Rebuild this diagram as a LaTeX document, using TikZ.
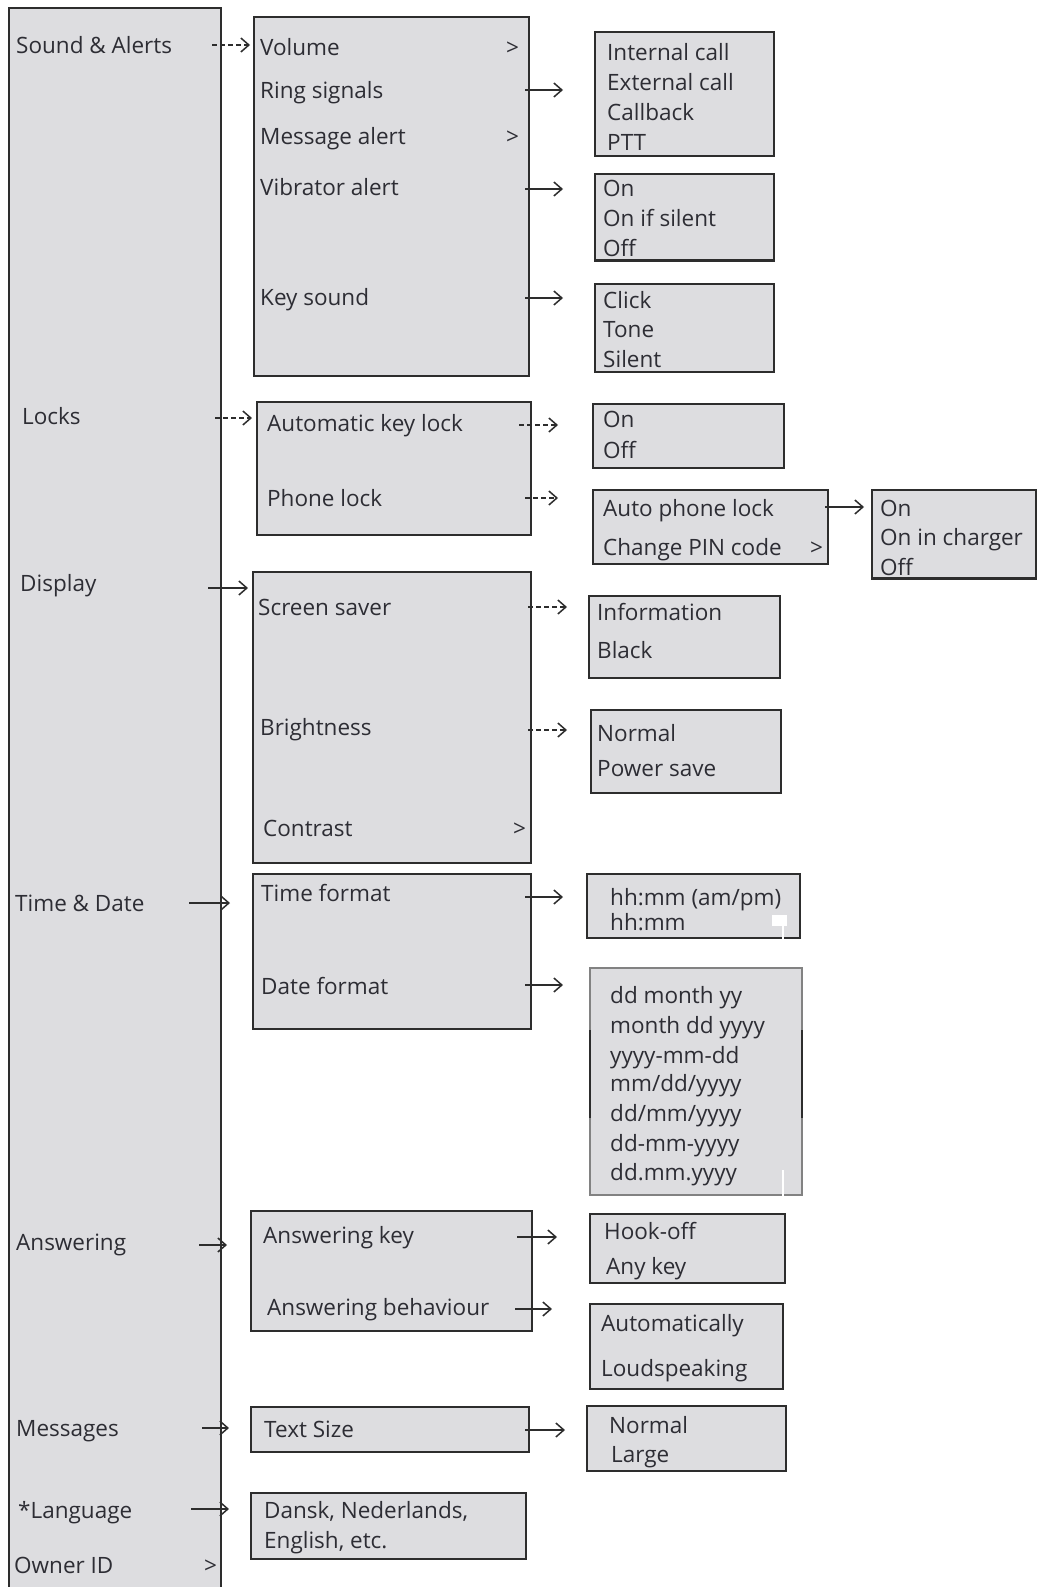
\documentclass[tikz,border=0pt]{standalone}
\usepackage{fontspec}
\setmainfont{Open Sans}
\usetikzlibrary{arrows.meta,fit}
\definecolor{boxfill}{RGB}{221,221,224}
\definecolor{linec}{RGB}{45,45,45}
\definecolor{txtc}{RGB}{45,45,52}
\definecolor{datec}{RGB}{130,130,130}
\begin{document}
\begin{tikzpicture}[x=1pt,y=-1pt,
 box/.style={draw=linec, fill=boxfill, line width=1.6pt, inner sep=0pt},
 lbl/.style={anchor=base west, inner sep=0pt, text=txtc, font=\fontsize{22.5}{27}\selectfont},
 arr/.style={draw=linec, line width=1.3pt, -{Straight Barb[length=8pt,width=14pt,line width=1.5pt]}},
 darr/.style={arr, dash pattern=on 5pt off 3pt}]
\useasboundingbox (0,0) rectangle (1039,1587);
\fill[white] (0,0) rectangle (1039,1587);

% main column
\node[box, fit={(9,8) (221,1620)}] (mainbox) {};
\node[lbl] (snd) at (16,53) {Sound \& Alerts};
\node[lbl] (locks) at (22,424) {Locks};
\node[lbl] (disp) at (20,591) {Display};
\node[lbl] (td) at (15,911) {Time \& Date};
\node[lbl] (ans) at (16,1250) {Answering};
\node[lbl] (msg) at (16,1436) {Messages};
\node[lbl] (lang) at (18,1518) {*Language};
\node[lbl] (own) at (14,1573) {Owner ID};
\node[lbl] (ownmark) at (204,1573) {>};

% Sound & Alerts submenu
\node[box, fit={(254,17) (529,376)}] (sndbox) {};
\node[lbl] (vol) at (260,56) {Volume};
\node[lbl] (volmark) at (506,56) {>};
\node[lbl] (ring) at (260,98) {Ring signals};
\node[lbl] (malert) at (260,144) {Message alert};
\node[lbl] (malmark) at (506,144) {>};
\node[lbl] (vib) at (260,195) {Vibrator alert};
\node[lbl] (keys) at (260,305) {Key sound};

\node[box, fit={(595,32) (774,156)}] (ringbox) {};
\node[lbl] at (607,60) {Internal call};
\node[lbl] at (607,90) {External call};
\node[lbl] at (607,120) {Callback};
\node[lbl] at (607,150) {PTT};

\node[box, fit={(595,174) (774,260)}] (vibbox) {};
\node[lbl] at (603,196) {On};
\node[lbl] at (603,226) {On if silent};
\node[lbl] at (603,256) {Off};
\draw[linec, line width=1.6pt] (vibbox.south west) -- (vibbox.south east);

\node[box, fit={(595,284) (774,372)}] (keybox) {};
\node[lbl] at (603,308) {Click};
\node[lbl] at (603,337) {Tone};
\node[lbl] at (603,367) {Silent};

% Locks
\node[box, fit={(257,402) (531,535)}] (lockbox) {};
\node[lbl] (akl) at (267,431) {Automatic key lock};
\node[lbl] (pl) at (267,506) {Phone lock};

\node[box, fit={(593,404) (784,468)}] (aklbox) {};
\node[lbl] at (603,427) {On};
\node[lbl] at (603,458) {Off};

\node[box, fit={(593,490) (828,564)}] (plbox) {};
\node[lbl] (apl) at (603,516) {Auto phone lock};
\node[lbl] at (603,555) {Change PIN code};
\node[lbl] at (810,555) {>};

\node[box, fit={(872,490) (1036,578)}] (aplbox) {};
\node[lbl] at (880,516) {On};
\node[lbl] at (880,545) {On in charger};
\node[lbl] at (880,575) {Off};
\draw[linec, line width=1.6pt] (aplbox.south west) -- (aplbox.south east);

% Display
\node[box, fit={(253,572) (531,863)}] (dispbox) {};
\node[lbl] (ss) at (258,615) {Screen saver};
\node[lbl] (br) at (260,735) {Brightness};
\node[lbl] (con) at (263,836) {Contrast};
\node[lbl] at (513,836) {>};

\node[box, fit={(589,596) (780,678)}] (ssbox) {};
\node[lbl] at (597,620) {Information};
\node[lbl] at (597,658) {Black};

\node[box, fit={(591,710) (781,793)}] (brbox) {};
\node[lbl] at (597,741) {Normal};
\node[lbl] at (597,776) {Power save};

% Time & Date
\node[box, fit={(253,874) (531,1029)}] (tdbox) {};
\node[lbl] (tf) at (261,901) {Time format};
\node[lbl] (df) at (261,994) {Date format};

\node[box, fit={(587,874) (800,938)}] (tfbox) {};
\node[lbl] at (610,905) {hh:mm (am/pm)};
\node[lbl] at (610,930) {hh:mm};

\node[box, draw=datec, fit={(590,968) (802,1195)}] (dfbox) {};
\draw[linec, line width=1.6pt] (590,1030) -- (590,1118) (802,1030) -- (802,1118);
\node[lbl] at (610,1003) {dd month yy};
\node[lbl] at (610,1033) {month dd yyyy};
\node[lbl] at (610,1063) {yyyy-mm-dd};
\node[lbl] at (610,1091) {mm/dd/yyyy};
\node[lbl] at (610,1121) {dd/mm/yyyy};
\node[lbl] at (610,1151) {dd-mm-yyyy};
\node[lbl] at (610,1180) {dd.mm.yyyy};
% white scan marks
\fill[white] (772,915) rectangle (787,926);
\draw[white, line width=1.5pt] (783,926) -- (783,941) (783,1170) -- (783,1198);

% Answering
\node[box, fit={(251,1211) (532,1331)}] (ansbox) {};
\node[lbl] (ak) at (263,1243) {Answering key};
\node[lbl] (ab) at (267,1315) {Answering behaviour};

\node[box, fit={(590,1214) (785,1283)}] (akbox) {};
\node[lbl] at (604,1239) {Hook-off};
\node[lbl] at (606,1274) {Any key};

\node[box, fit={(590,1304) (783,1389)}] (abbox) {};
\node[lbl] at (601,1331) {Automatically};
\node[lbl] at (601,1376) {Loudspeaking};

% Messages
\node[box, fit={(251,1407) (529,1452)}] (msgbox) {};
\node[lbl] (ts) at (264,1437) {Text Size};
\node[box, fit={(587,1406) (786,1471)}] (tsbox) {};
\node[lbl] at (609,1433) {Normal};
\node[lbl] at (611,1462) {Large};

% Language
\node[box, fit={(251,1493) (526,1559)}] (langbox) {};
\node[lbl] at (264,1518) {Dansk, Nederlands,};
\node[lbl] at (264,1548) {English, etc.};

% connector end points
\coordinate (c1a) at (212,45);   \coordinate (c1b) at (250,45);
\coordinate (c2a) at (525,90);   \coordinate (c2b) at (563,90);
\coordinate (c3a) at (525,189);  \coordinate (c3b) at (563,189);
\coordinate (c4a) at (525,298);  \coordinate (c4b) at (563,298);
\coordinate (c5a) at (215,418);  \coordinate (c5b) at (252,418);
\coordinate (c6a) at (519,425);  \coordinate (c6b) at (558,425);
\coordinate (c7a) at (525,498);  \coordinate (c7b) at (558,498);
\coordinate (c8a) at (825,507);  \coordinate (c8b) at (864,507);
\coordinate (c9a) at (208,588);  \coordinate (c9b) at (248,588);
\coordinate (c10a) at (528,607); \coordinate (c10b) at (567,607);
\coordinate (c11a) at (528,730); \coordinate (c11b) at (567,730);
\coordinate (c12a) at (189,903); \coordinate (c12b) at (230,903);
\coordinate (c13a) at (525,897); \coordinate (c13b) at (563,897);
\coordinate (c14a) at (525,985); \coordinate (c14b) at (563,985);
\coordinate (c15a) at (199,1245); \coordinate (c15b) at (227,1245);
\coordinate (c16a) at (517,1237); \coordinate (c16b) at (557,1237);
\coordinate (c17a) at (515,1309); \coordinate (c17b) at (552,1309);
\coordinate (c18a) at (202,1428); \coordinate (c18b) at (229,1428);
\coordinate (c19a) at (525,1430); \coordinate (c19b) at (565,1430);
\coordinate (c20a) at (191,1509); \coordinate (c20b) at (229,1509);

\draw[darr] (c1a) -- (c1b);
\draw[arr] (c2a) -- (c2b);
\draw[arr] (c3a) -- (c3b);
\draw[arr] (c4a) -- (c4b);
\draw[darr] (c5a) -- (c5b);
\draw[darr] (c6a) -- (c6b);
\draw[darr] (c7a) -- (c7b);
\draw[arr] (c8a) -- (c8b);
\draw[arr] (c9a) -- (c9b);
\draw[darr] (c10a) -- (c10b);
\draw[darr] (c11a) -- (c11b);
\draw[arr] (c12a) -- (c12b);
\draw[arr] (c13a) -- (c13b);
\draw[arr] (c14a) -- (c14b);
\draw[arr] (c15a) -- (c15b);
\draw[arr] (c16a) -- (c16b);
\draw[arr] (c17a) -- (c17b);
\draw[arr] (c18a) -- (c18b);
\draw[arr] (c19a) -- (c19b);
\draw[arr] (c20a) -- (c20b);
\end{tikzpicture}
\end{document}
